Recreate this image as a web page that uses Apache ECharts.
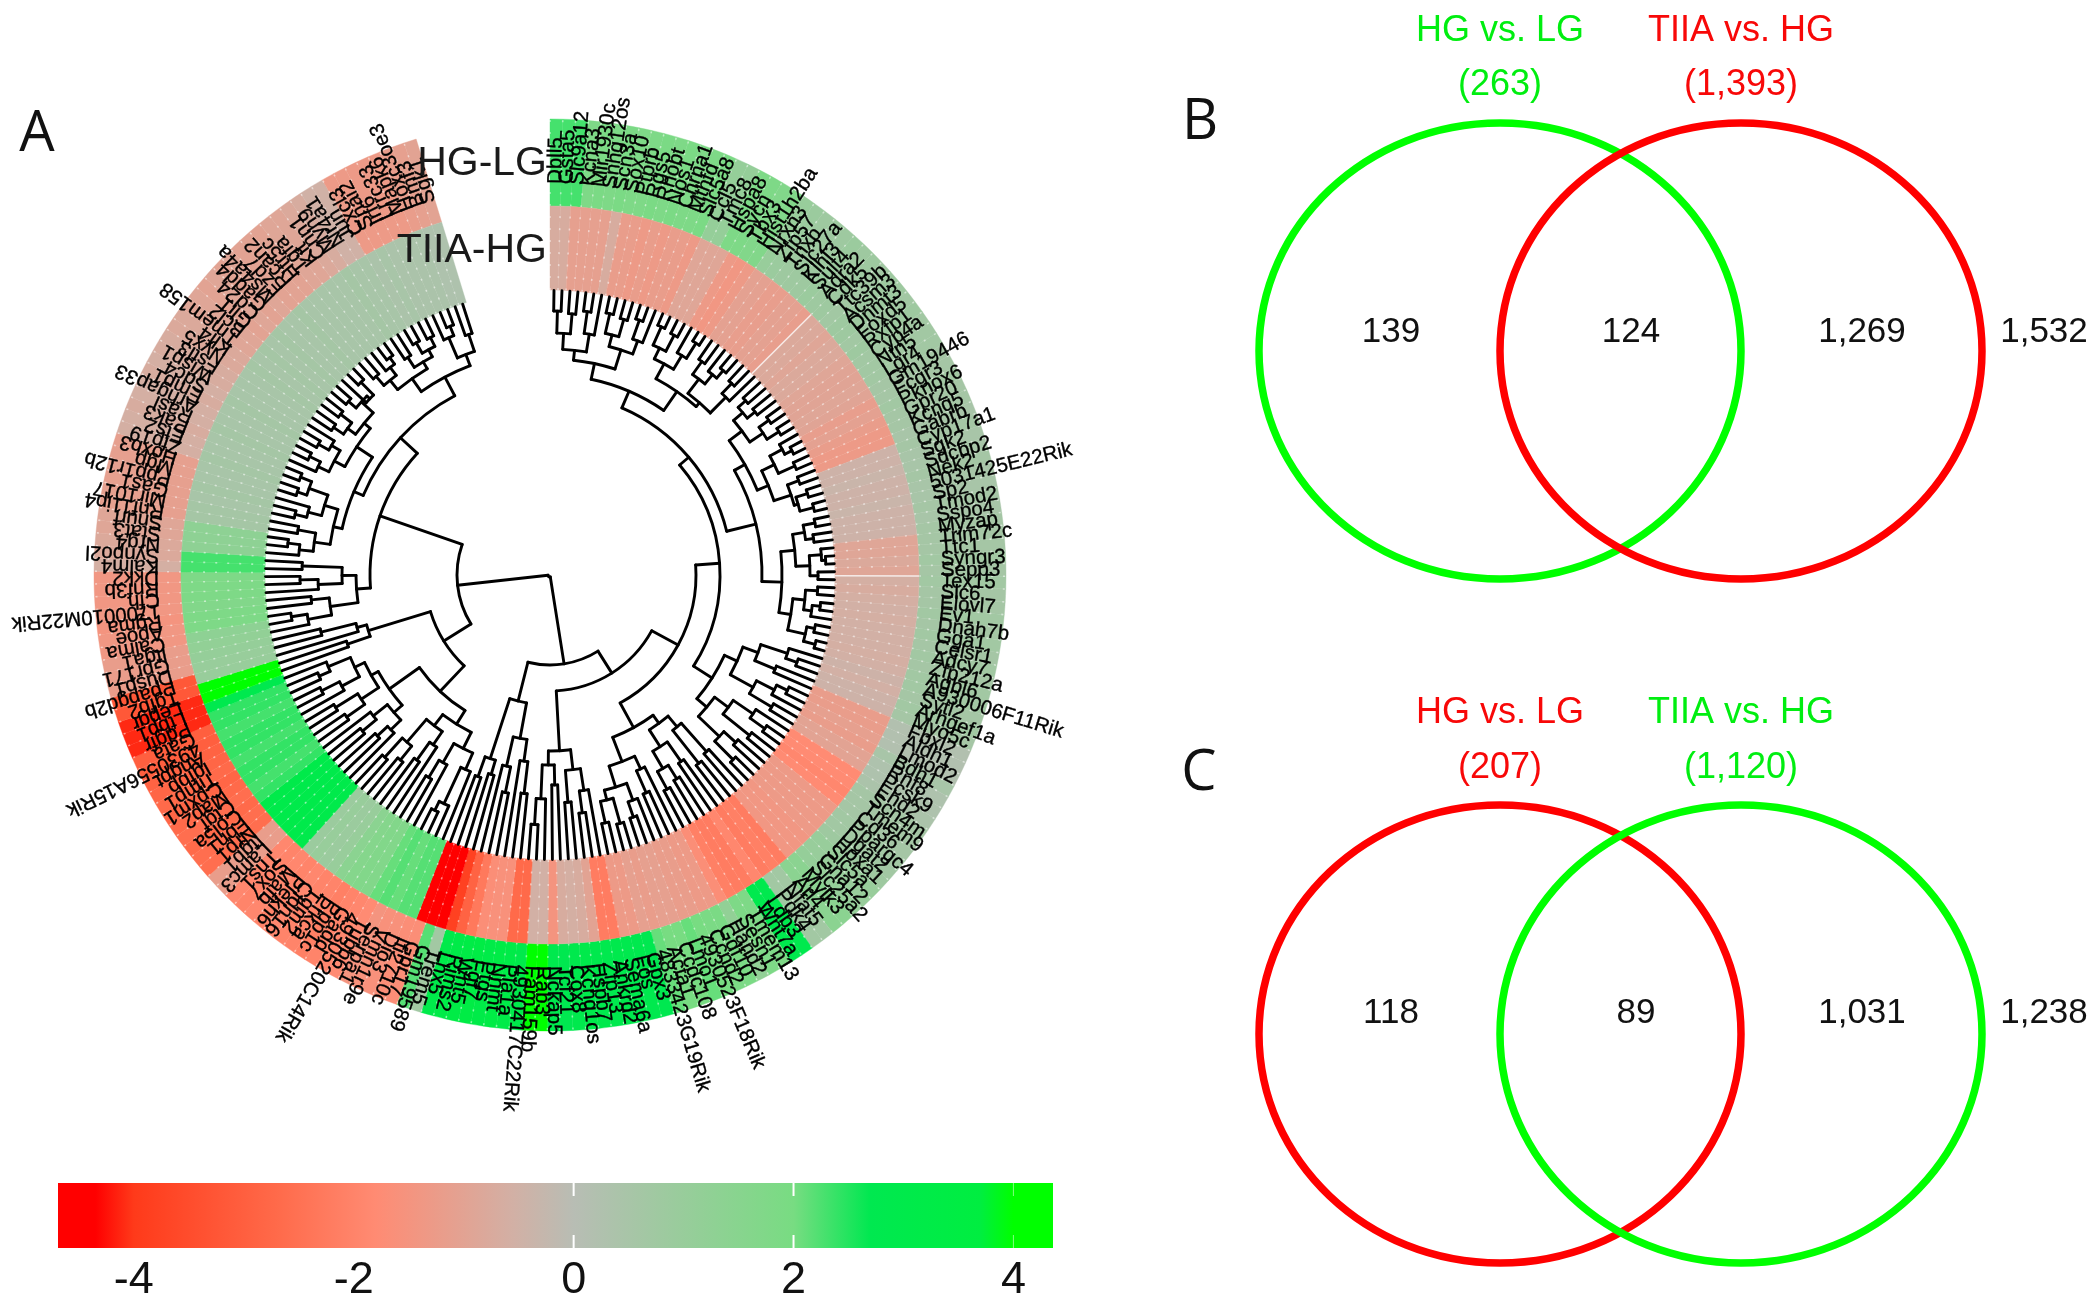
<!DOCTYPE html>
<html>
<head>
<meta charset="utf-8">
<style>html,body{margin:0;padding:0;background:#fff}#chart{width:2100px;height:1306px}</style>
<script src="https://cdn.jsdelivr.net/npm/echarts@6/dist/echarts.min.js"></script>
</head>
<body>
<div id="chart"></div>
<script>
// ---------- Data ----------
const geneLabels = [
"Dbll5","Gsta5","Slc9a12","Kcna3","Mir1930c","Snhg12os","Scn3a","Sox10","Ptprb","Rgs5",
"Rhobt","Nos1","Chrna1","Mthfd","Slc5a8","Ccl5","Tmc8","Hspa8","Sycn","Tbx3",
"Hist1h2ba","Nrxn3","Zfp57","Tnxb","Slc27a","Klhl3","Sult4","Adra2","Cdk5","Ttc39b",
"Acsm3","Dnmt3","Foxd5","Rxfp1","Cyp4a","Ntn5","Lgr4","Gm19446","Fcgr3","Pknox6",
"Gpr20","Kcnq5","Gabrb","Cyp17a1","Sgk2","Sdcbp2","Nek2","5031425E22Rik","Sp2","Tmod2",
"Sspo4","Myzap","Trim72c","Ttc1","Syngr3","Sepp3","Tex15","Slc6","Elovl7","Ev1",
"Dnah7b","Gga1","Celsr1","Adcy7","Zfp212a","Agbl6","A930006F11Rik","Sytl2","Arhgef1a","Myo5c",
"Fbxl2","Aldh1","Lmod2","Bdh1","Rnf8","Pcsk9","Ehd2","Scn4m","Tmem9","Cd36",
"Ppargc4","Dgat2","Hoxa1","Slc5a","Gna12","Slc25a2","Mylk3","Arl4","Nfat5","Pdk4",
"Ldb3","Wnt7a","Tmem13","Sesn1","Hand2","Gdf10","Ccnd2","4930523F18Rik","Lmo1","Ccdc108",
"Acta1","4833423G19Rik","Gpx3","Fos","Sema6a","Ankrd2","Zfp13","Hspb7","Kcnq1os","Cox8",
"Tcf21","Nckap5","Rab3","Fam159b","4930417C22Rik","Pla1a","Nnmt","Ptgs","Fgf7","Wnt5",
"Rims2","Lhx5","Trem5","Gm19589","Gpr17","Ifi2710c","Dio3","Vmn1r9e","Serpa1","Tubb6",
"4930520C14Rik","Gadd","Ppp1c","Prkca","Tgm2","Cldn16","Plekh6","Mafb","Sox7","Tns1",
"Lamc3","Itgb1","Nrp1","Fbn1","Col5a","Ctgf","Map2","Cpxm1","Timp1","Igfbp",
"Angpt","4930556A15Rik","Gata","Pdgfr","Ltbp1","Lepgr","Tgfb2","Ppapgd2b","Dusp1","Gpr171",
"Itga1","Calma","Apoe","Rgma","1700010M22Rik","Cfh","Rnf3b","Dkk2","Kalm4","Synpo2l",
"Nrg4","Stat3","Snurf","Rnf11ip4","Mir1017","Gas1","Ppp1r12b","Mgp","Hoxb3","Zfp19",
"Ets2","Pak3","Rasl","Arhgap33","Emp1","Sdc4","Wisp1","Fstl3","Nyx5","Klf4",
"Tmem158","Bcl2","Gli1","Cd24","Gadd4","Ms4a4a","Fzd7","Rcan2","Htr5c","Tgfa",
"Kit","Cnn1","Myh9","Nr4a1","Jun","Cxcl3","Snai2","Irf6","Lrrc33","Mapk6",
"Hoxc3oe3","Bmf3","Sgk1"];

const hgVsLg = [
2.3,2.3,2.3,1.8,1.9,1.8,1.9,1.8,1.8,1.9,
1.8,1.9,1.8,1.8,1.9,1.1,1.1,1.8,1.8,1.7,
1.7,1.0,0.9,0.8,0.8,0.8,0.9,0.8,0.8,0.7,
0.8,0.8,0.7,0.8,0.7,0.7,0.7,0.6,0.6,0.7,
0.6,0.6,0.5,0.6,0.5,0.5,0.6,0.5,0.5,0.6,
0.5,0.6,0.6,0.6,0.7,0.6,0.7,0.6,0.6,0.7,
0.6,0.7,0.6,0.7,0.6,0.7,0.7,0.6,0.7,0.6,
0.2,0.2,0.2,0.5,0.3,0.3,0.4,0.6,0.6,0.6,
0.7,0.7,0.8,1.0,1.0,1.1,1.4,1.4,0.7,0.7,
2.8,2.8,1.8,1.8,1.2,1.9,1.9,2.0,2.1,2.0,
2.0,2.1,2.7,2.8,2.8,2.9,2.8,2.9,3.0,2.9,
2.7,2.8,4.2,4.2,3.0,3.2,3.3,3.2,3.4,3.3,
3.2,3.1,0.7,2.2,-1.7,-1.7,-1.6,-1.6,-1.5,-1.8,
-1.9,-2.0,-2.1,-2.0,-2.0,-1.9,-2.0,-1.9,-2.0,-1.9,
-1.2,-1.2,-2.6,-2.6,-2.7,-2.6,-2.7,-2.8,-2.7,-2.8,
-2.9,-3.0,-3.0,-4.1,-4.1,-4.1,-3.2,-3.2,-1.2,-1.2,
-1.2,-1.4,-1.4,-1.5,-1.4,-1.4,-1.4,-1.4,-0.6,-0.8,
-0.8,-0.9,-0.9,-1.1,-1.1,-1.1,-1.1,-1.1,-1.1,-0.6,
-0.6,-0.7,-0.6,-0.6,-0.7,-0.6,-0.7,-0.7,-0.8,-0.8,
-0.9,-0.9,-1.0,-0.9,-1.0,-0.9,-1.0,-1.0,-1.0,-0.9,
-0.9,-0.8,-0.7,-0.5,-0.5,-1.3,-1.3,-1.3,-1.3,-1.3,
-1.2,-1.1,-1.0];

const tiiaVsHg = [
-0.7,-0.7,-1.1,-1.1,-1.1,-1.1,-0.7,-1.2,-1.2,-1.3,
-1.2,-1.3,-1.2,-1.2,-1.3,-0.9,-0.9,-0.9,-1.3,-1.4,
-1.3,-1.05,-1.05,-1.15,-1.15,-1.05,-1.05,-1.15,-0.8,-0.8,
-0.9,-0.8,-0.8,-0.9,-0.95,-0.95,-0.9,-0.95,-1.15,-1.05,
-1.2,-1.3,-1.3,-0.45,-0.45,-0.35,-0.45,-0.45,-0.35,-0.45,
-0.45,-0.45,-0.9,-0.9,-0.8,-0.9,-0.6,-0.7,-0.6,-0.55,
-0.6,-0.55,-0.55,-0.55,-0.6,-0.55,-0.45,-0.55,-0.45,-0.45,
-1.2,-1.2,-1.1,-1.2,-1.0,-1.0,-1.8,-1.8,-1.9,-1.8,
-1.3,-1.3,-1.3,-1.3,-1.4,-1.4,-1.4,-2.2,-2.1,-2.2,
-1.9,-2.2,-2.2,-2.1,-1.7,-1.3,-1.3,-1.2,-1.2,-1.1,
-1.1,-1.2,-1.1,-1.3,-1.3,-2.2,-2.2,-1.0,-0.7,-0.6,
-0.7,-1.5,-0.55,-0.55,-2.7,-2.7,-1.6,-1.6,-1.7,-2.3,
-2.9,-3.8,-4.6,-4.6,-4.6,2.2,2.2,2.1,2.2,2.1,
1.7,1.7,1.6,1.4,1.0,0.9,1.0,0.9,3.0,3.0,
3.1,3.0,3.0,3.1,2.4,2.3,2.4,2.4,2.3,2.4,
2.4,2.3,2.4,2.4,2.8,4.2,4.2,1.0,1.0,1.1,
1.2,1.3,1.8,1.8,1.7,1.8,1.8,1.8,2.3,2.3,
1.3,1.3,1.3,0.6,0.6,0.5,0.6,0.5,0.5,0.6,
0.5,0.5,0.6,0.5,0.5,0.6,0.5,0.5,0.5,0.6,
0.5,0.6,0.5,0.6,0.5,0.5,0.6,0.5,0.5,0.5,
0.5,0.5,0.6,0.5,0.5,0.4,0.5,0.4,0.4,0.4,
0.4,0.3,0.3];

// Dendrogram: [joinRadius, childA, childB], 0 = a leaf. Leaves run clockwise from 12 o'clock.
const clusterT = [200,
  [216,[226,[242,[264,0,0],[262,0,0]],[244,[266,0,0],0]],[236,[248,[268,0,0],[266,0,0]],[250,[270,0,0],0]]],
  [223,[240,[252,[272,0,0],[270,0,0]],[256,0,[274,0,0]]],[228,[246,[262,0,0],[258,0,[268,0,0]]],[250,[264,0,0],0]]]];
const clusterM1 = [224,[240,[252,[262,0,0],[262,0,0]],[256,[268,0,0],[270,0,0]]],[236,[250,[264,0,[272,0,0]],[268,0,0]],[254,[266,0,0],[258,[270,0,0],[272,0,0]]]]];
const clusterM2 = [232,[246,[258,[270,0,0],[266,0,0]],[260,[272,0,[276,0,0]],[268,0,0]]],[244,[256,[268,0,0],[264,[272,0,0],0]],[262,[270,0,0],[274,0,0]]]];
const clusterPa = [206,[222,[250,0,[262,0,0]],[244,0,0]],[232,[252,[264,0,0],0],[258,0,0]]];
const clusterPb = [205,[222,[246,0,[264,0,0]],[256,0,0]],[234,[250,0,0],[260,0,0]]];
const clusterQ = [184,[198,[236,0,0],[240,0,0]],[204,[228,0,0],[224,[240,0,0],[244,0,0]]]];
const clusterV = [200,[214,0,[238,0,0]],[222,[240,0,[256,0,0]],[232,[258,0,0],[254,0,0]]]];
const clusterW = [176,[196,[218,0,[240,0,0]],[228,0,0]],[190,[210,0,0],[224,0,[250,0,0]]]];
const clusterRb = [166,[188,[220,0,0],0],[196,[222,0,0],0]];
const clusterRa = [193,[208,0,0],[214,0,0]];
const clusterY2 = [176,[194,[212,0,[252,0,[262,0,0]]],[216,0,[236,0,0]]],[190,[206,0,[228,0,0]],[220,[238,0,0],[246,0,0]]]];
const clusterY1 = [197,[208,[222,0,[236,0,0]],[226,[244,0,0],0]],[205,[226,[248,0,0],[252,0,0]],[216,[236,0,[256,0,0]],[240,[252,0,0],0]]]];
const clusterX = [190,[214,0,0],[200,0,[236,0,0]]];
const clusterUa = [194,[222,[246,0,[262,0,0]],[240,0,0]],[208,[232,0,[250,0,0]],[248,0,0]]];
const clusterUl = [222,[238,[252,0,[264,0,0]],[256,0,0]],[236,[250,[262,0,0],0],[256,[266,0,0],[268,0,0]]]];
const clusterUu = [232,[244,[256,0,[268,0,0]],[254,[266,0,0],0]],[240,[250,[262,0,0],[264,0,0]],[256,[266,0,0],[252,0,[270,0,0]]]]];
const clusterZ1 = [240,[252,[264,0,0],[262,0,[270,0,0]]],[248,[260,0,0],[256,[268,0,0],[266,0,0]]]];
const clusterZ2 = [236,[258,0,[268,0,0]],[254,0,0]];
const dendrogram = [2,
  [90,
    [116,
      [146,
        [170,[182,clusterT,[212,clusterM1,clusterM2]],[192,clusterPa,clusterPb]],
        [174,clusterQ,clusterV]],
      clusterW],
    [130,clusterRb,clusterRa]],
  [93,
    [125,[160,clusterY2,clusterY1],clusterX],
    [180,clusterUa,[203,[213,clusterUl,clusterUu],[224,clusterZ1,clusterZ2]]]]];

// Colour key
const colorKeyValues = [-4.69,-4.35,-4.0,-2.7,-1.8,-0.55,0,2,2.7,3.7,4.0,4.36];
const colorKeyColors = ['#ff0000','#ff0000','#ff3a1a','#ff6a4a','#ff8b73','#d2b0a5','#b8bdb4','#78dc82','#00e850','#00ee40','#00ff00','#00ff00'];
const colorTickLabels = [-4,-2,0,2,4];
const colorTickMarks = [0,2,4];

// Venn panels
const vennNamesB = ['HG vs. LG','TIIA vs. HG'];
const vennTotalsB = ['(263)','(1,393)'];
const vennCountsB = ['139','124','1,269','1,532'];
const vennNamesC = ['HG vs. LG','TIIA vs. HG'];
const vennTotalsC = ['(207)','(1,120)'];
const vennCountsC = ['118','89','1,031','1,238'];

// ---------- Layout ----------
const GENES = geneLabels.length;
if (GENES !== 213 || hgVsLg.length !== 213 || tiiaVsHg.length !== 213) throw new Error('len ' + GENES + ' ' + hgVsLg.length + ' ' + tiiaVsHg.length);
const CX = 550, CY = 575, RMAX = 456;
const ANGLE_MAX = 223.6;
const RING_INNER = [285, 369], RING_OUTER = [369, 456], LEAF_R = 284.5, LABEL_R = 391;
const SOLID_SEAMS_INNER = [28, 56];
const FONT = '"Liberation Sans", Arial, sans-serif';
const GREEN = '#00ff00', RED = '#ff0000', GREEN_TXT = '#00ee10', RED_TXT = '#f80808';

function hexToRgb(h){return [parseInt(h.slice(1,3),16),parseInt(h.slice(3,5),16),parseInt(h.slice(5,7),16)];}
function colorFor(v){
  const xs = colorKeyValues;
  if (v <= xs[0]) return colorKeyColors[0];
  for (let i = 1; i < xs.length; i++) {
    if (v <= xs[i]) {
      const t = (v - xs[i-1])/(xs[i]-xs[i-1]);
      const a = hexToRgb(colorKeyColors[i-1]), b = hexToRgb(colorKeyColors[i]);
      return 'rgb(' + a.map((c,k)=>Math.round(c+(b[k]-c)*t)).join(',') + ')';
    }
  }
  return colorKeyColors[colorKeyColors.length-1];
}

// Flatten the tree into arcs and radial lines (positions come from polar axes at render time)
const treeSegs = [];
let leafCounter = 0;
function walk(node){
  if (node === 0) { const a = leafCounter + 0.5; leafCounter++; return {a: a, r: LEAF_R}; }
  const c1 = walk(node[1]), c2 = walk(node[2]);
  treeSegs.push([node[0], c1.a, c2.a, 0]);
  treeSegs.push([node[0], c1.a, c1.r, 1]);
  treeSegs.push([node[0], c2.a, c2.r, 1]);
  return {a: (c1.a + c2.a)/2, r: node[0]};
}
walk(dendrogram);
if (leafCounter !== 213) throw new Error('leaves ' + leafCounter);

function ringSeries(values, ring, z, solidSeams){
  return {
    type:'custom', coordinateSystem:'polar', polarIndex:0, z:z, silent:true, animation:false,
    data: values.map((v,i)=>[ring[0], i, v]),
    renderItem:function(params, api){
      const i = params.dataIndex, cs = params.coordSys;
      const p0 = api.coord([ring[1], i]), p1 = api.coord([ring[1], i+1]), q0 = api.coord([ring[0], i]);
      const a0 = Math.atan2(p0[1]-cs.cy, p0[0]-cs.cx);
      let a1 = Math.atan2(p1[1]-cs.cy, p1[0]-cs.cx);
      while (a1 < a0) a1 += Math.PI*2;
      const col = colorFor(values[i]);
      const solid = solidSeams && solidSeams.indexOf(i) >= 0;
      return {type:'group', children:[
        {type:'sector', shape:{cx:cs.cx, cy:cs.cy, r0:ring[0], r:ring[1], startAngle:a0, endAngle:a1, clockwise:true},
         style:{fill:col, stroke:col, lineWidth:0.4}},
        {type:'line', shape:{x1:q0[0], y1:q0[1], x2:p0[0], y2:p0[1]},
         style: solid ? {stroke:'#ffffff', opacity:0.75, lineWidth:1.5}
                      : {stroke:'#ffffff', opacity:0.5, lineWidth:1.6, lineDash:[2,10]}}
      ]};
    }
  };
}

const overlayText = [];
function addText(t, x, y, size, fill, fam){ overlayText.push({t:t,x:x,y:y,size:size,fill:fill,fam:fam||FONT}); }
const LETTER = '"Open Sans", sans-serif';
addText('A', 37, 135, 56, '#111', LETTER);
addText('B', 1200, 123, 56, '#111', LETTER);
addText('C', 1199, 774, 56, '#111', LETTER);
[[vennNamesB,vennTotalsB,vennCountsB,31,85,332,[GREEN_TXT,RED_TXT]],
 [vennNamesC,vennTotalsC,vennCountsC,713,768,1013,[RED_TXT,GREEN_TXT]]].forEach(function(p){
  addText(p[0][0],1500,p[3],36,p[6][0]); addText(p[0][1],1741,p[3],36,p[6][1]);
  addText(p[1][0],1500,p[4],36,p[6][0]); addText(p[1][1],1741,p[4],36,p[6][1]);
  const xs = [1391, p[2][1]==='89'?1636:1631, 1862, 2044];
  p[2].forEach(function(s,i){ addText(s,xs[i],p[5],35,'#111'); });
});

// ellipses: centre x, centre y, radius x, radius y, colour – drawn in listed order
const vennRings = [
  [1500,351,241,228,GREEN],[1741,351,241,228,RED],
  [1500,1034,241,229,RED],[1741,1034,241,229,GREEN]];

const option = {
  backgroundColor:'#ffffff',
  animation:false,
  polar:{center:[CX,CY], radius:RMAX},
  angleAxis:{type:'value', min:0, max:ANGLE_MAX, startAngle:90, clockwise:true, show:false},
  radiusAxis:{type:'value', min:0, max:RMAX, show:false},
  grid:[
    {left:58, top:1183, width:995, height:65, containLabel:false},
    {left:0, top:0, width:2100, height:1306}
  ],
  xAxis:[
    {gridIndex:0, type:'value', min:-4.69, max:4.36,
     axisLine:{show:false}, axisTick:{show:false}, splitLine:{show:false},
     axisLabel:{show:true, customValues:colorTickLabels, fontSize:45, fontFamily:FONT, color:'#111', margin:10, formatter:function(v){return String(v);}}},
    {gridIndex:1, type:'value', min:0, max:2100, show:false}
  ],
  yAxis:[
    {gridIndex:0, type:'value', min:0, max:1, show:false},
    {gridIndex:1, type:'value', min:0, max:1306, inverse:true, show:false}
  ],
  series:[
    ringSeries(hgVsLg, RING_OUTER, 2),
    ringSeries(tiiaVsHg, RING_INNER, 2, SOLID_SEAMS_INNER),
    { // dendrogram
      type:'custom', coordinateSystem:'polar', polarIndex:0, z:3, silent:true,
      data: treeSegs.map(s=>[s[0], s[1]]),
      renderItem:function(params, api){
        const s = treeSegs[params.dataIndex], cs = params.coordSys;
        const st = {stroke:'#000000', lineWidth:2.9, fill:'none', lineCap:'round', lineJoin:'round'};
        if (s[3] === 0) {
          const p0 = api.coord([s[0], s[1]]), p1 = api.coord([s[0], s[2]]);
          const a0 = Math.atan2(p0[1]-cs.cy, p0[0]-cs.cx);
          let a1 = Math.atan2(p1[1]-cs.cy, p1[0]-cs.cx);
          while (a1 < a0) a1 += Math.PI*2;
          return {type:'arc', shape:{cx:cs.cx, cy:cs.cy, r:Math.hypot(p0[0]-cs.cx,p0[1]-cs.cy), startAngle:a0, endAngle:a1, clockwise:true}, style:st};
        }
        const q0 = api.coord([s[0], s[1]]), q1 = api.coord([s[2], s[1]]);
        return {type:'line', shape:{x1:q0[0], y1:q0[1], x2:q1[0], y2:q1[1]}, style:st};
      }
    },
    { // gene labels
      type:'custom', coordinateSystem:'polar', polarIndex:0, z:4, silent:true,
      data: geneLabels.map((g,i)=>[LABEL_R, i+0.5]),
      renderItem:function(params, api){
        const i = params.dataIndex, cs = params.coordSys;
        const p = api.coord([LABEL_R, i+0.5]);
        const dir = Math.atan2(p[1]-cs.cy, p[0]-cs.cx);
        return {type:'text', x:p[0], y:p[1], rotation:-dir,
          style:{text:geneLabels[i], x:0, y:0, fontSize:20.5, fontFamily:FONT, fill:'#000000', stroke:'#000000', lineWidth:0.35, align:'left', verticalAlign:'middle'}};
      }
    },
    { // colour key bar
      type:'custom', coordinateSystem:'cartesian2d', xAxisIndex:0, yAxisIndex:0, z:2, silent:true,
      data:[[-4.69,0]],
      renderItem:function(params, api){
        const a = api.coord([-4.69,1]), b = api.coord([4.36,0]);
        const span = 4.36+4.69;
        const grad = new echarts.graphic.LinearGradient(0,0,1,0,
          colorKeyValues.map((v,i)=>({offset:(v+4.69)/span, color:colorKeyColors[i]})));
        return {type:'rect', shape:{x:a[0], y:a[1], width:b[0]-a[0], height:b[1]-a[1]}, style:{fill:grad}};
      }
    },
    { // white tick marks on the key
      type:'custom', coordinateSystem:'cartesian2d', xAxisIndex:0, yAxisIndex:0, z:3, silent:true,
      data:colorTickMarks.map(v=>[v,0]),
      renderItem:function(params, api){
        const v = colorTickMarks[params.dataIndex];
        const t = api.coord([v,1]), b = api.coord([v,0]);
        const st = {stroke:'#ffffff', lineWidth:v===4?1:2, opacity:v===4?0.5:1};
        return {type:'group', children:[
          {type:'line', shape:{x1:t[0], y1:t[1], x2:t[0], y2:t[1]+13}, style:st},
          {type:'line', shape:{x1:b[0], y1:b[1]-13, x2:b[0], y2:b[1]}, style:st}
        ]};
      }
    },
    { // Venn rings
      type:'custom', coordinateSystem:'cartesian2d', xAxisIndex:1, yAxisIndex:1, z:2, silent:true,
      data:vennRings.map(r=>[r[0],r[1]]),
      renderItem:function(params, api){
        const r = vennRings[params.dataIndex];
        const c = api.coord([r[0],r[1]]), e = api.coord([r[0]+r[2], r[1]+r[3]]);
        return {type:'ellipse', shape:{cx:c[0], cy:c[1], rx:e[0]-c[0], ry:e[1]-c[1]},
                style:{fill:'none', stroke:r[4], lineWidth:7.5}};
      }
    },
    { // Venn text and panel letters
      type:'custom', coordinateSystem:'cartesian2d', xAxisIndex:1, yAxisIndex:1, z:5, silent:true,
      data:overlayText.map(o=>[o.x,o.y]),
      renderItem:function(params, api){
        const o = overlayText[params.dataIndex];
        const p = api.coord([o.x,o.y]);
        return {type:'text', x:p[0], y:p[1], style:{text:o.t, fontSize:o.size, fontFamily:o.fam, fill:o.fill, align:'center', verticalAlign:'middle'}};
      }
    },
    { // ring titles
      type:'custom', coordinateSystem:'cartesian2d', xAxisIndex:1, yAxisIndex:1, z:6, silent:true,
      data:[[547,164],[547,251]],
      renderItem:function(params, api){
        const names = ['HG-LG','TIIA-HG'];
        const p = api.coord(params.dataIndex===0?[547,164]:[547,251]);
        return {type:'text', x:p[0], y:p[1], style:{text:names[params.dataIndex], fontSize:41, fontFamily:FONT, fill:'#1a1a1a', align:'right', verticalAlign:'middle'}};
      }
    }
  ]
};
const chart = echarts.init(document.getElementById('chart'), null, {renderer:'canvas', width:2100, height:1306});
chart.setOption(option);
</script>
</body>
</html>
